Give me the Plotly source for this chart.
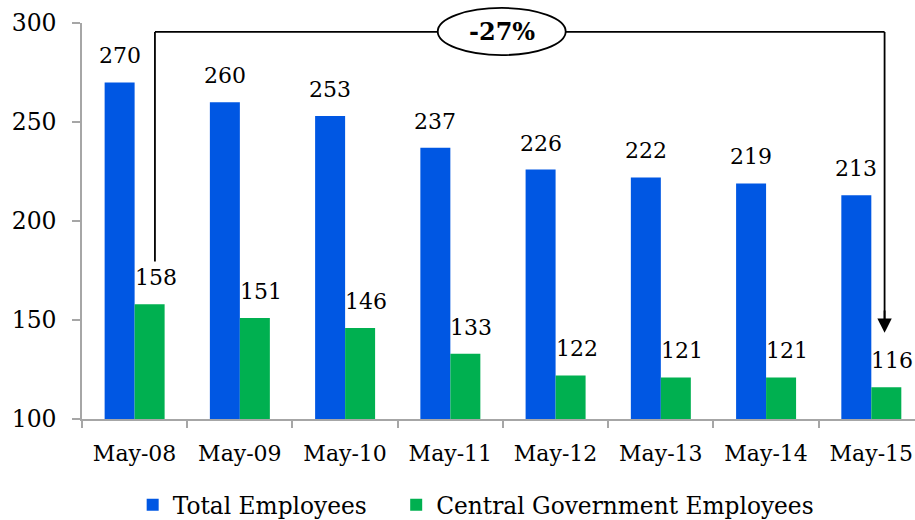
import plotly.graph_objects as go

categories = ["May-08", "May-09", "May-10", "May-11", "May-12", "May-13", "May-14", "May-15"]
total_employees = [270, 260, 253, 237, 226, 222, 219, 213]
central_gov = [158, 151, 146, 133, 122, 121, 121, 116]
y_ticks = [100, 150, 200, 250, 300]
change_label = "-27%"

BLUE = "#0057E3"
GREEN = "#00B050"
FONT = "DejaVu Serif"
AXIS_GRAY = "#A6A6A6"

fig = go.Figure()
fig.add_trace(go.Bar(name="Total Employees", x=categories, y=total_employees,
                     marker=dict(color=BLUE, line=dict(width=0)), legend="legend"))
fig.add_trace(go.Bar(name="Central Government Employees", x=categories, y=central_gov,
                     marker=dict(color=GREEN, line=dict(width=0)), legend="legend2"))

half = 0.1425
annotations = []
for i, v in enumerate(total_employees):
    annotations.append(dict(x=i - half, y=v, xref="x", yref="y", text=str(v), showarrow=False,
                            yanchor="bottom", yshift=12, font=dict(family=FONT, size=22, color="black")))
for i, v in enumerate(central_gov):
    annotations.append(dict(x=i + half, y=v, xref="x", yref="y", text=str(v), showarrow=False,
                            yanchor="bottom", xshift=6, yshift=12, font=dict(family=FONT, size=22, color="black")))

x_left = 0.193
x_right = 7.126
y_top = 295.5
y_left_bottom = 179.5
y_arrow_tip = 143.5

shapes = [
    dict(type="line", xref="x", yref="y", x0=x_left, x1=x_left, y0=y_left_bottom, y1=y_top,
         line=dict(color="black", width=1.8)),
    dict(type="line", xref="x", yref="y", x0=x_left, x1=x_right, y0=y_top, y1=y_top,
         line=dict(color="black", width=1.8)),
    dict(type="line", xref="x", yref="y", x0=x_right, x1=x_right, y0=y_top, y1=y_arrow_tip + 5,
         line=dict(color="black", width=1.8)),
    dict(type="circle", xref="x", yref="paper", x0=2.88, x1=4.096, y0=0.919, y1=1.038,
         fillcolor="white", line=dict(color="black", width=1.8), layer="above"),
]

annotations.append(dict(x=x_right, y=y_arrow_tip, xref="x", yref="y", ax=x_right, ay=y_arrow_tip + 12,
                        axref="x", ayref="y", text="", showarrow=True, arrowhead=2, arrowsize=1.6,
                        arrowwidth=1.8, arrowcolor="black"))
annotations.append(dict(x=3.49, y=0.978, xref="x", yref="paper", xanchor="center", yanchor="middle",
                        text="<b>" + change_label + "</b>",
                        showarrow=False, font=dict(family=FONT, size=24, color="black")))

legend_common = dict(orientation="h", xref="container", yref="container", xanchor="left",
                     yanchor="middle", y=0.0288, font=dict(family=FONT, size=23.3, color="black"),
                     itemwidth=30, bgcolor="rgba(0,0,0,0)")

fig.update_layout(
    width=915, height=520,
    margin=dict(l=82, r=0, t=23, b=101, autoexpand=False),
    paper_bgcolor="white", plot_bgcolor="white",
    barmode="group", bargap=0.43, bargroupgap=0,
    font=dict(family=FONT, size=22, color="black"),
    showlegend=True,
    legend=dict(x=0.145, **legend_common),
    legend2=dict(x=0.433, **legend_common),
    shapes=shapes,
    annotations=annotations,
    xaxis=dict(range=[-0.5, 7.415], showline=True, linecolor=AXIS_GRAY, linewidth=1.5,
               ticks="outside", tickson="boundaries", ticklen=7, tickcolor=AXIS_GRAY, tickwidth=1.5,
               tickfont=dict(family=FONT, size=22, color="black"), showgrid=False, ticklabelstandoff=14),
    yaxis=dict(range=[100, 300], tickvals=y_ticks, showline=True, linecolor=AXIS_GRAY, linewidth=1.5,
               ticks="outside", ticklen=8, tickcolor=AXIS_GRAY, tickwidth=1.5,
               tickfont=dict(family=FONT, size=23.5, color="black"), showgrid=False, zeroline=False,
               ticklabelstandoff=11),
)

fig.write_html("out.html", config={"displayModeBar": False},
               post_script="document.body.style.margin='0';document.documentElement.style.overflow='hidden';document.body.style.overflow='hidden';")
